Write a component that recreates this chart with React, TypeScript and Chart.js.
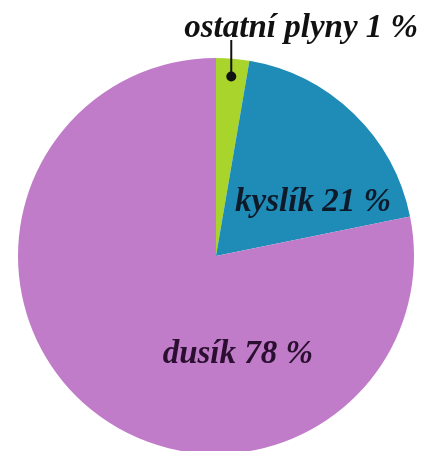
import React, { useEffect, useRef } from "react";
import { Chart, registerables } from "chart.js";

Chart.register(...registerables);

const categories = ["ostatní plyny", "kyslík", "dusík"];
const shareLabels = ["1 %", "21 %", "78 %"];
const sliceValues = [2.7, 19.1, 78.2];
const sliceColors = ["#a8d42c", "#1f8cb8", "#c07cc8"];

// label placement per slice: angle from top (deg), fraction of radius
const labelPlacement = [
  { angle: 0, r: 0 },
  { angle: 61, r: 0.56 },
  { angle: 167.5, r: 0.51 },
];

const FONT = "italic bold 33px 'Liberation Serif', 'DejaVu Serif', serif";

const labelPlugin = {
  id: "sliceLabels",
  afterDatasetsDraw(chart: any) {
    const ctx = chart.ctx;
    const meta = chart.getDatasetMeta(0);
    ctx.save();
    ctx.font = FONT;
    ctx.textAlign = "center";
    ctx.textBaseline = "middle";
    meta.data.forEach((arc: any, i: number) => {
      const { x, y, outerRadius, startAngle, endAngle } = arc.getProps(
        ["x", "y", "outerRadius", "startAngle", "endAngle"],
        true
      );
      const text = categories[i] + " " + shareLabels[i];
      if (i === 0) {
        const mid = (startAngle + endAngle) / 2;
        const px = x + Math.cos(mid) * outerRadius * 0.91;
        const py = y + Math.sin(mid) * outerRadius * 0.91;
        ctx.strokeStyle = "#111";
        ctx.lineWidth = 2;
        ctx.beginPath();
        ctx.moveTo(px, py);
        ctx.lineTo(px, y - outerRadius - 18);
        ctx.stroke();
        ctx.fillStyle = "#111";
        ctx.beginPath();
        ctx.arc(px, py, 5, 0, Math.PI * 2);
        ctx.fill();
        ctx.textBaseline = "alphabetic";
        ctx.fillText(text, x + outerRadius * 0.43, y - outerRadius - 21);
        ctx.textBaseline = "middle";
      } else {
        const p = labelPlacement[i];
        const a = (p.angle * Math.PI) / 180;
        const lx = x + Math.sin(a) * outerRadius * p.r;
        const ly = y - Math.cos(a) * outerRadius * p.r;
        ctx.fillStyle = i === 2 ? "#2a0f30" : "#0e1a2a";
        ctx.fillText(text, lx, ly);
      }
    });
    ctx.restore();
  },
};

export default function App() {
  const ref = useRef<HTMLCanvasElement>(null);
  useEffect(() => {
    if (!ref.current) return;
    const chart = new Chart(ref.current, {
      type: "pie",
      data: {
        labels: categories,
        datasets: [
          {
            data: sliceValues,
            backgroundColor: sliceColors,
            borderWidth: 0,
          },
        ],
      },
      options: {
        responsive: false,
        animation: false,
        layout: { padding: { left: 18, right: 22, top: 58, bottom: 6 } },
        plugins: {
          legend: { display: false },
          tooltip: { enabled: false },
          title: { display: false },
        },
      },
      plugins: [labelPlugin],
    });
    return () => chart.destroy();
  }, []);
  return (
    <div
      style={{
        position: "fixed",
        left: 0,
        top: 0,
        width: 436,
        height: 451,
        overflow: "hidden",
        background: "#fff",
      }}
    >
      <canvas ref={ref} width={436} height={460} style={{ width: 436, height: 460 }} />
    </div>
  );
}
